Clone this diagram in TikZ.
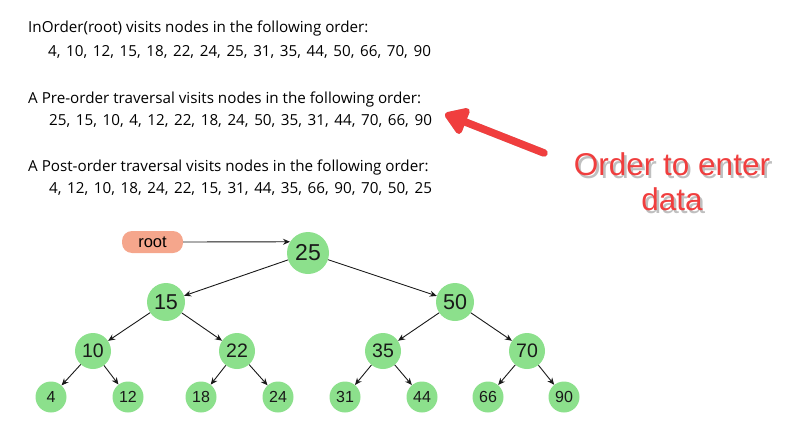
\documentclass[tikz,border=0pt]{standalone}
\usepackage{fontspec}
\setmainfont{Open Sans}
\newfontfamily\listfont[WordSpace=1.42]{Open Sans}
\newfontfamily\arialfont{Liberation Sans}
\usetikzlibrary{
    positioning,
    arrows.meta
}
\definecolor{keygreen}{RGB}{140,224,140}
\definecolor{rootsalmon}{RGB}{245,166,140}
\definecolor{notered}{RGB}{240,62,62}

\begin{document}
\begin{tikzpicture}[x=1pt, y=-1pt,
    line/.style={anchor=base west, inner sep=0pt, font=\fontsize{15.2}{18}\selectfont},
    keylist/.style={line, font=\listfont\fontsize{15.2}{18}\selectfont},
    key/.style={circle, fill=keygreen, inner sep=0pt, text=black!90},
    toplevel/.style={key, minimum size=42, font=\arialfont\fontsize{23}{23}\selectfont},
    midlevel/.style={key, minimum size=38, font=\arialfont\fontsize{21.5}{21.5}\selectfont},
    lowlevel/.style={key, minimum size=36, font=\arialfont\fontsize{19.5}{19.5}\selectfont},
    leaf/.style={key, minimum size=31, font=\arialfont\fontsize{16}{16}\selectfont},
    edge/.style={-{Stealth[length=7pt, width=6pt]}, black!90, line width=0.9pt},
    notetext/.style={align=center, inner sep=0pt, font=\arialfont\fontsize{31.5}{35}\selectfont}
]
      \useasboundingbox (0,0) rectangle (791,433);

      % the three traversals
      \node[line] (inorder) at (28,33) {InOrder(root) visits nodes in the following order:};
      \node[keylist] (inlist) at (48,57) {4, 10, 12, 15, 18, 22, 24, 25, 31, 35, 44, 50, 66, 70, 90};
      \node[line] (preorder) at (28,103) {A Pre-order traversal visits nodes in the following order:};
      \node[keylist] (prelist) at (49,125) {25, 15, 10, 4, 12, 22, 18, 24, 50, 35, 31, 44, 70, 66, 90};
      \node[line] (postorder) at (28,171) {A Post-order traversal visits nodes in the following order:};
      \node[keylist] (postlist) at (49,193) {4, 12, 10, 18, 24, 22, 15, 31, 44, 35, 66, 90, 70, 50, 25};

      % red call-out
      \coordinate (arrowtail) at (544,153);
      \coordinate (arrowtip) at (445,114);
      \draw[line width=7.5pt, black, opacity=0.2, line cap=round, -{Triangle[length=25pt, width=31pt, round]}, shift={(2,3)}] (arrowtail) -- (arrowtip);
      \draw[line width=7.5pt, notered, line cap=round, -{Triangle[length=25pt, width=31pt, round]}] (arrowtail) -- (arrowtip);

      \node[notetext, text=black, opacity=0.25] (noteshadow) at (674.5,184.5) {Order to enter\\data};
      \node[notetext, text=notered] (note) at (672,182) {Order to enter\\data};

      % the tree
      \node[rounded corners=10, fill=rootsalmon, minimum width=61, minimum height=22, inner sep=0pt,
            font=\arialfont\fontsize{16.5}{16.5}\selectfont] (root) at (152.5,242) {root};

      \node[toplevel] (n25) at (308,253) {25};
      \node[midlevel] (n15) at (166,302) {15};
      \node[midlevel] (n50) at (455,302) {50};
      \node[lowlevel] (n10) at (93,351) {10};
      \node[lowlevel] (n22) at (237,351) {22};
      \node[lowlevel] (n35) at (383,351) {35};
      \node[lowlevel] (n70) at (527,351) {70};
      \node[leaf] (n4) at (51,397) {4};
      \node[leaf] (n12) at (128,397) {12};
      \node[leaf] (n18) at (201,397) {18};
      \node[leaf] (n24) at (278,397) {24};
      \node[leaf] (n31) at (345,397) {31};
      \node[leaf] (n44) at (422,397) {44};
      \node[leaf] (n66) at (488,397) {66};
      \node[leaf] (n90) at (564,397) {90};

      \draw[edge] (root.east) -- (n25.148);
      \foreach \a/\b in {n25/n15, n25/n50, n15/n10, n15/n22, n50/n35, n50/n70,
                         n10/n4, n10/n12, n22/n18, n22/n24, n35/n31, n35/n44, n70/n66, n70/n90}
        \draw[edge] (\a) -- (\b);
    \end{tikzpicture}
\end{document}
